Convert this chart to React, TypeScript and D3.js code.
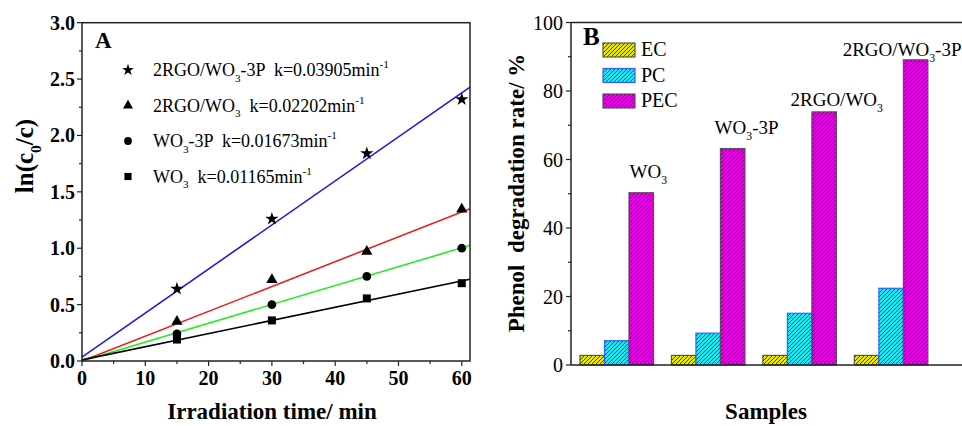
import React from "react"
import * as d3 from "d3"

// ---- panel A data (pseudo first order kinetics)
const times = [15, 30, 45, 60]
const seriesNames = ["2RGO/WO3-3P", "2RGO/WO3", "WO3-3P", "WO3"]
const kValues = [0.03905, 0.02202, 0.01673, 0.01165]
const intercepts = [0.035, 0, 0, 0.01]
const starVals = [0.64, 1.26, 1.84, 2.32]
const triVals = [0.35, 0.72, 0.97, 1.345]
const circVals = [0.24, 0.5, 0.75, 1.0]
const sqVals = [0.19, 0.36, 0.555, 0.69]
const aXTicks = [0, 10, 20, 30, 40, 50, 60]
const aYTicks = [0, 0.5, 1.0, 1.5, 2.0, 2.5, 3.0]

// ---- panel B data
const samples = ["WO3", "WO3-3P", "2RGO/WO3", "2RGO/WO3-3P"]
const modes = ["EC", "PC", "PEC"]
const ecVals = [2.8, 2.8, 2.8, 2.8]
const pcVals = [7.1, 9.3, 15.1, 22.4]
const pecVals = [50.3, 63.2, 73.9, 89.1]
const bYTicks = [0, 20, 40, 60, 80, 100]
// label anchors in data units (group index, %)
const labelX = [1.14, 2.07, 2.9, 3.47]
const labelY = [54.6, 67.4, 75.6, 90.2]

const serif = "'Liberation Serif', 'Times New Roman', serif"

type Seg = { t: string; sub?: boolean; sup?: boolean }

// turn "WO3-3P" into segments with the 3 after WO as subscript
function chem(s: string): Seg[] {
  const parts = s.split("WO3")
  const out: Seg[] = []
  parts.forEach((p, i) => {
    if (p) out.push({ t: p })
    if (i < parts.length - 1) {
      out.push({ t: "WO" })
      out.push({ t: "3", sub: true })
    }
  })
  return out
}

function Rich({ segs, x, y, size, anchor = "start", weight = "normal" }:
  { segs: Seg[]; x: number; y: number; size: number; anchor?: string; weight?: string }) {
  let cur = 0
  return (
    <text x={x} y={y} fontSize={size} fontFamily={serif} fontWeight={weight}
      textAnchor={anchor} style={{ whiteSpace: "pre" }}>
      {segs.map((s, i) => {
        const target = s.sub ? size * 0.32 : s.sup ? -size * 0.42 : 0
        const dy = target - cur
        cur = target
        return (
          <tspan key={i} dy={dy} fontSize={s.sub || s.sup ? size * 0.62 : size}>{s.t}</tspan>
        )
      })}
    </text>
  )
}

function PanelA() {
  const x = d3.scaleLinear().domain([0, 61.3]).range([82, 470])
  const y = d3.scaleLinear().domain([0, 3]).range([361, 22.7])
  const fmt = d3.format(".1f")
  const colors = ["#1c1cdc", "#ee2020", "#22ee22", "#000000"]
  const symbols = [d3.symbolStar, d3.symbolTriangle, d3.symbolCircle, d3.symbolSquare]
  const sizes = [55, 55, 60, 64]
  const vals = [starVals, triVals, circVals, sqVals]
  const line = d3.line<number>().x(d => x(d[0] as any)).y(d => y(d[1] as any)) as any
  const [x0, x1] = x.domain()
  const minorX = d3.range(0, 61, 5)
  const minorY = d3.range(0, 3.01, 0.25)
  return (
    <g>
      {kValues.map((k, i) => (
        <path key={"l" + i} d={line([[x0, intercepts[i]], [x1, intercepts[i] + k * x1]])}
          stroke={colors[i]} strokeWidth={1.6} fill="none" />
      ))}
      {vals.map((vs, i) => vs.map((v, j) => (
        <path key={"m" + i + j} d={d3.symbol(symbols[i], sizes[i])()!}
          transform={`translate(${x(times[j])},${y(v)})`} fill="#000" />
      )))}
      <rect x={x(0)} y={y(3)} width={x(x1) - x(0)} height={y(0) - y(3)}
        fill="none" stroke="#222" strokeWidth={1.5} />
      {minorX.map(t => (
        <line key={"xt" + t} x1={x(t)} x2={x(t)} y1={y(0)} y2={y(0) + (t % 10 === 0 ? 5 : 3)}
          stroke="#222" strokeWidth={1.2} />
      ))}
      {minorY.map(t => (
        <line key={"yt" + t} x1={x(0)} x2={x(0) - (Math.abs(t * 2 - Math.round(t * 2)) < 1e-6 ? 5 : 3)}
          y1={y(t)} y2={y(t)} stroke="#222" strokeWidth={1.2} />
      ))}
      {aXTicks.map(t => (
        <text key={"xl" + t} x={x(t)} y={y(0) + 24} textAnchor="middle" fontSize={20}
          fontWeight="bold" fontFamily={serif}>{t}</text>
      ))}
      {aYTicks.map(t => (
        <text key={"yl" + t} x={x(0) - 7} y={y(t) + 7} textAnchor="end" fontSize={20}
          fontWeight="bold" fontFamily={serif}>{fmt(t)}</text>
      ))}
      <text x={272} y={419} textAnchor="middle" fontSize={23} fontWeight="bold"
        fontFamily={serif}>Irradiation time/ min</text>
      <g transform="translate(33,156) rotate(-90)">
        <Rich segs={[{ t: "ln(c" }, { t: "0", sub: true }, { t: "/c)" }]} x={0} y={0}
          size={25} anchor="middle" weight="bold" />
      </g>
      <text x={95} y={48} fontSize={23} fontWeight="bold" fontFamily={serif}>A</text>
      {seriesNames.map((n, i) => {
        const ry = 70 + i * 35.5
        return (
          <g key={"lg" + i}>
            <path d={d3.symbol(symbols[i], sizes[i] * 0.8)()!} transform={`translate(128,${ry})`} fill="#000" />
            <Rich segs={[...chem(n), { t: "  k=" + kValues[i] + "min" }, { t: "-1", sup: true }]}
              x={153} y={ry + 6} size={18} />
          </g>
        )
      })}
    </g>
  )
}

function PanelB() {
  const x = d3.scaleLinear().domain([0.5, 4.95]).range([571, 978])
  const y = d3.scaleLinear().domain([0, 100]).range([365, 22.5])
  const bw = 0.268
  const fills = ["#e6e600", "#19e6f0", "#e600e6"]
  const hatch = ["#333", "#1d3a8a", "#3a0a3a"]
  const borders = ["#555", "#3a5cff", "#555"]
  const allVals = [ecVals, pcVals, pecVals]
  const minorY = d3.range(0, 101, 10)
  return (
    <g>
      <defs>
        {modes.map((m, i) => (
          <pattern key={m} id={"hatch" + m} patternUnits="userSpaceOnUse" width={4} height={4}>
            <rect width={4} height={4} fill={fills[i]} />
            <path d="M-1,1 L1,-1 M0,4 L4,0 M3,5 L5,3" stroke={hatch[i]} strokeWidth={0.9} />
          </pattern>
        ))}
      </defs>
      {allVals.map((vs, i) => vs.map((v, j) => (
        <rect key={"b" + i + j} x={x(j + 1 + (i - 1) * bw - bw / 2)} y={y(v)}
          width={x(bw) - x(0)} height={y(0) - y(v)}
          fill={`url(#hatch${modes[i]})`} stroke={borders[i]} strokeWidth={1.2} />
      )))}
      <line x1={x(0.5)} x2={x(4.95)} y1={y(100)} y2={y(100)} stroke="#222" strokeWidth={1.5} />
      <line x1={x(0.5)} x2={x(4.95)} y1={y(0)} y2={y(0)} stroke="#222" strokeWidth={1.5} />
      <line x1={x(0.5)} x2={x(0.5)} y1={y(0)} y2={y(100)} stroke="#222" strokeWidth={1.5} />
      {minorY.map(t => (
        <line key={"t" + t} x1={x(0.5)} x2={x(0.5) - (t % 20 === 0 ? 5 : 3)} y1={y(t)} y2={y(t)}
          stroke="#222" strokeWidth={1.2} />
      ))}
      {bYTicks.map(t => (
        <text key={"l" + t} x={x(0.5) - 8} y={y(t) + 7} textAnchor="end" fontSize={20}
          fontFamily={serif}>{t}</text>
      ))}
      <text x={766} y={419} textAnchor="middle" fontSize={23} fontWeight="bold"
        fontFamily={serif}>Samples</text>
      <text transform="translate(524,193) rotate(-90)" textAnchor="middle" fontSize={23}
        fontWeight="bold" fontFamily={serif} style={{ whiteSpace: "pre" }}>Phenol  degradation rate/ %</text>
      <text x={583} y={45} fontSize={25} fontWeight="bold" fontFamily={serif}>B</text>
      {modes.map((m, i) => (
        <g key={"lg" + m}>
          <rect x={603} y={43 + i * 25.5} width={32} height={14} fill={`url(#hatch${m})`}
            stroke={borders[i]} strokeWidth={1.2} />
          <text x={641} y={56 + i * 25.5} fontSize={20} fontFamily={serif}>{m}</text>
        </g>
      ))}
      {samples.map((s, j) => (
        <Rich key={"sl" + j} segs={chem(s)} x={x(labelX[j])} y={y(labelY[j])} size={19} />
      ))}
    </g>
  )
}

export default function App() {
  return (
    <svg width={962} height={426} style={{ position: "absolute", left: 0, top: 0, background: "#fff" }}>
      <rect width={962} height={426} fill="#fff" />
      <PanelA />
      <PanelB />
    </svg>
  )
}
